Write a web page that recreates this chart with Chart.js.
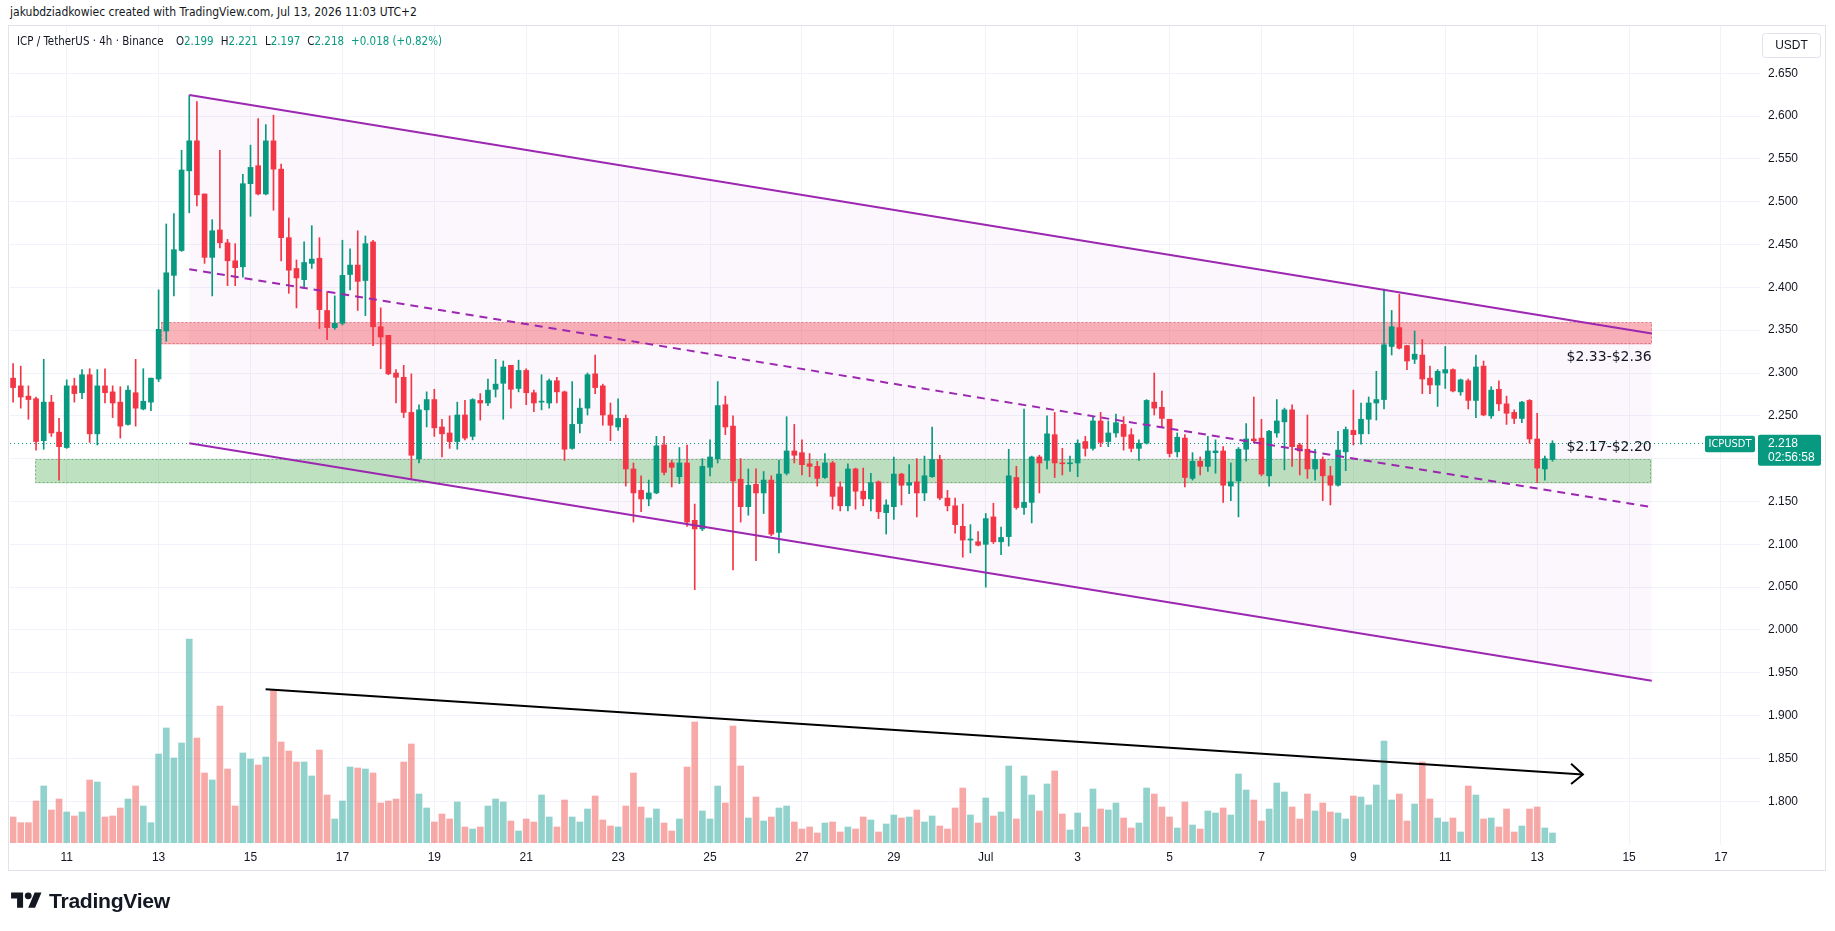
<!DOCTYPE html>
<html>
<head>
<meta charset="utf-8">
<script src="https://cdn.jsdelivr.net/npm/chart.js@4.4.0/dist/chart.umd.min.js"></script>
<style>
html,body{margin:0;padding:0;background:#fff;width:1835px;height:931px;overflow:hidden;}
#header{position:absolute;left:10px;top:4px;font:13px "Liberation Sans Narrow","DejaVu Sans Condensed","Liberation Sans",sans-serif;color:#131722;white-space:nowrap;transform-origin:0 0;}
#pane{position:absolute;left:8px;top:25px;width:1818px;height:846px;border:1px solid #e0e3eb;box-sizing:border-box;}
#c{position:absolute;left:0;top:0;}
#legend{position:absolute;left:17px;top:33px;font:13px "Liberation Sans Narrow","DejaVu Sans Condensed","Liberation Sans",sans-serif;color:#131722;white-space:nowrap;transform-origin:0 0;}
#legend .g{color:#089981;}
#legend .s{margin-left:8px;}
#logo{position:absolute;left:11px;top:889px;height:26px;}
#logo svg{position:absolute;left:0;top:0;}
#logotext{position:absolute;left:38px;top:0px;font:bold 21px "Liberation Sans",Arial,sans-serif;color:#131722;white-space:nowrap;transform-origin:0 0;letter-spacing:-0.3px;}
</style>
</head>
<body>
<div id="header">jakubdziadkowiec created with TradingView.com, Jul 13, 2026 11:03 UTC+2</div>
<div id="pane"></div>
<canvas id="c" width="1835" height="931"></canvas>
<div id="legend"><span>ICP / TetherUS · 4h · Binance</span><span class="s" style="margin-left:14px">O<span class="g">2.199</span></span><span class="s">H<span class="g">2.221</span></span><span class="s">L<span class="g">2.197</span></span><span class="s">C<span class="g">2.218</span></span><span class="s g">+0.018 (+0.82%)</span></div>
<div id="logo"><svg width="31" height="24" viewBox="0 0 36 28"><path d="M14 22H7V11H0V4h14v18zM28 22h-8l7.5-18h8L28 22z" fill="#131722"/><circle cx="20" cy="8" r="4" fill="#131722"/></svg><span id="logotext">TradingView</span></div>
<script>
// ---------- DATA ----------
const firstCandle = Date.UTC(2026, 5, 9, 20, 0); // Jun 9, 20:00
const candleHours = 4;
const axisOrigin = Date.UTC(2026, 5, 11, 0, 0);  // "11" (Jun 11)

const O = [2.294,2.285,2.273,2.270,2.221,2.266,2.231,2.213,2.285,2.277,
2.298,2.229,2.285,2.278,2.266,2.240,2.277,2.258,2.266,2.293,
2.349,2.414,2.443,2.536,2.571,2.509,2.435,2.467,2.452,2.431,
2.424,2.521,2.542,2.509,2.571,2.538,2.458,2.422,2.409,2.428,
2.434,2.373,2.353,2.358,2.415,2.426,2.408,2.453,2.354,2.344,
2.300,2.295,2.254,2.200,2.257,2.269,2.237,2.230,2.220,2.251,
2.226,2.268,2.265,2.281,2.288,2.309,2.282,2.303,2.277,2.266,
2.265,2.291,2.278,2.212,2.241,2.259,2.299,2.285,2.251,2.237,
2.247,2.188,2.163,2.153,2.160,2.216,2.195,2.179,2.195,2.128,
2.118,2.190,2.200,2.263,2.238,2.176,2.144,2.170,2.160,2.175,
2.114,2.183,2.209,2.207,2.194,2.191,2.178,2.195,2.167,2.145,
2.188,2.162,2.153,2.173,2.137,2.144,2.182,2.169,2.173,2.160,
2.179,2.199,2.154,2.145,2.121,2.105,2.103,2.100,2.132,2.103,
2.109,2.178,2.143,2.149,2.202,2.198,2.228,2.195,2.194,2.195,
2.220,2.212,2.244,2.220,2.230,2.240,2.228,2.212,2.218,2.266,
2.260,2.246,2.208,2.224,2.177,2.197,2.191,2.207,2.209,2.168,
2.174,2.211,2.223,2.224,2.180,2.230,2.243,2.257,2.216,2.211,
2.188,2.199,2.180,2.169,2.208,2.233,2.229,2.246,2.265,2.269,
2.331,2.353,2.332,2.316,2.321,2.294,2.286,2.300,2.304,2.278,
2.291,2.268,2.308,2.250,2.281,2.264,2.254,2.247,2.268,2.223,
2.188,2.199];
const H = [2.311,2.308,2.285,2.272,2.316,2.274,2.247,2.292,2.294,2.304,
2.305,2.304,2.305,2.285,2.284,2.285,2.316,2.305,2.294,2.397,
2.474,2.486,2.560,2.624,2.617,2.509,2.479,2.560,2.456,2.451,
2.532,2.566,2.597,2.590,2.601,2.544,2.481,2.432,2.453,2.472,
2.458,2.395,2.390,2.455,2.445,2.466,2.460,2.455,2.376,2.344,
2.304,2.309,2.299,2.263,2.278,2.281,2.246,2.250,2.266,2.268,
2.270,2.276,2.293,2.316,2.314,2.309,2.315,2.305,2.280,2.298,
2.293,2.295,2.279,2.290,2.270,2.300,2.321,2.287,2.265,2.270,
2.251,2.195,2.180,2.175,2.226,2.226,2.198,2.213,2.216,2.147,
2.200,2.222,2.290,2.273,2.250,2.200,2.188,2.188,2.185,2.180,
2.198,2.249,2.240,2.222,2.206,2.197,2.206,2.197,2.173,2.194,
2.189,2.189,2.183,2.174,2.152,2.202,2.183,2.193,2.200,2.203,
2.237,2.204,2.163,2.154,2.147,2.123,2.115,2.136,2.148,2.120,
2.211,2.191,2.258,2.203,2.204,2.250,2.254,2.212,2.203,2.222,
2.226,2.249,2.254,2.244,2.252,2.249,2.235,2.222,2.269,2.300,
2.279,2.246,2.230,2.228,2.207,2.202,2.226,2.222,2.214,2.195,
2.213,2.241,2.272,2.246,2.233,2.269,2.259,2.263,2.218,2.251,
2.211,2.202,2.191,2.232,2.237,2.280,2.265,2.272,2.302,2.398,
2.373,2.392,2.332,2.349,2.339,2.308,2.304,2.331,2.305,2.293,
2.293,2.321,2.314,2.284,2.291,2.273,2.257,2.267,2.269,2.253,
2.203,2.221];
const L = [2.266,2.259,2.246,2.210,2.211,2.226,2.175,2.212,2.266,2.270,
2.219,2.216,2.265,2.248,2.224,2.239,2.238,2.257,2.256,2.290,
2.337,2.390,2.442,2.487,2.495,2.428,2.390,2.446,2.402,2.402,
2.412,2.483,2.508,2.508,2.490,2.431,2.393,2.376,2.399,2.422,
2.352,2.339,2.351,2.356,2.397,2.373,2.367,2.332,2.305,2.298,
2.265,2.248,2.177,2.195,2.237,2.226,2.202,2.212,2.211,2.222,
2.222,2.245,2.262,2.272,2.246,2.259,2.278,2.263,2.255,2.257,
2.259,2.265,2.198,2.211,2.230,2.251,2.276,2.239,2.221,2.233,
2.168,2.126,2.138,2.145,2.159,2.181,2.167,2.171,2.121,2.047,
2.116,2.180,2.195,2.228,2.070,2.126,2.134,2.081,2.136,2.110,
2.090,2.181,2.195,2.181,2.179,2.168,2.177,2.141,2.139,2.139,
2.141,2.145,2.139,2.130,2.112,2.129,2.146,2.159,2.132,2.151,
2.178,2.152,2.139,2.113,2.085,2.090,2.098,2.050,2.101,2.088,
2.098,2.141,2.135,2.125,2.160,2.188,2.178,2.181,2.185,2.179,
2.203,2.210,2.214,2.214,2.225,2.210,2.208,2.198,2.217,2.251,
2.237,2.202,2.202,2.167,2.175,2.181,2.185,2.183,2.149,2.151,
2.132,2.197,2.219,2.180,2.168,2.225,2.187,2.191,2.181,2.177,
2.175,2.151,2.146,2.168,2.186,2.216,2.217,2.229,2.245,2.258,
2.321,2.328,2.304,2.311,2.276,2.276,2.261,2.282,2.278,2.274,
2.258,2.248,2.250,2.247,2.256,2.240,2.241,2.242,2.218,2.172,
2.175,2.197];
const C = [2.283,2.272,2.269,2.220,2.266,2.230,2.214,2.285,2.276,2.298,
2.229,2.285,2.277,2.265,2.238,2.280,2.259,2.267,2.294,2.351,
2.417,2.444,2.537,2.571,2.508,2.435,2.466,2.452,2.431,2.423,
2.521,2.540,2.509,2.571,2.538,2.458,2.420,2.411,2.429,2.433,
2.374,2.353,2.358,2.414,2.426,2.407,2.451,2.354,2.342,2.299,
2.295,2.254,2.204,2.257,2.269,2.236,2.229,2.220,2.251,2.224,
2.269,2.265,2.280,2.287,2.307,2.281,2.303,2.277,2.265,2.267,
2.291,2.278,2.211,2.240,2.259,2.298,2.283,2.251,2.239,2.247,
2.188,2.160,2.153,2.160,2.215,2.184,2.190,2.195,2.126,2.118,
2.191,2.202,2.262,2.237,2.174,2.144,2.169,2.160,2.175,2.112,
2.182,2.209,2.204,2.193,2.191,2.177,2.195,2.156,2.145,2.188,
2.162,2.153,2.172,2.138,2.146,2.182,2.169,2.172,2.160,2.180,
2.199,2.154,2.145,2.123,2.105,2.106,2.099,2.130,2.103,2.108,
2.180,2.143,2.149,2.202,2.195,2.229,2.195,2.194,2.195,2.218,
2.212,2.244,2.219,2.230,2.242,2.226,2.212,2.218,2.268,2.259,
2.247,2.206,2.225,2.178,2.197,2.191,2.209,2.209,2.169,2.173,
2.211,2.223,2.221,2.182,2.232,2.244,2.257,2.214,2.209,2.188,
2.199,2.180,2.169,2.210,2.234,2.228,2.246,2.265,2.269,2.333,
2.354,2.329,2.314,2.322,2.293,2.286,2.302,2.304,2.279,2.292,
2.268,2.307,2.251,2.280,2.264,2.253,2.247,2.266,2.223,2.189,
2.200,2.218];
// volume, thousands of ICP
const V = [385,300,300,625,850,490,655,460,400,460,
940,910,385,400,520,655,850,550,300,1330,
1720,1270,1495,3055,1570,1045,940,2050,1105,550,
1345,1255,1165,1285,2290,1510,1375,1210,1210,1000,
1390,715,355,625,1135,1120,1105,1045,595,625,
655,1210,1480,730,520,310,430,355,610,235,
205,235,550,655,610,325,175,355,310,715,
385,235,640,385,310,505,700,340,250,235,
550,1045,535,370,505,295,175,355,1135,1810,
475,355,850,595,1750,1150,370,685,325,385,
520,550,310,205,235,145,295,310,160,235,
205,385,340,160,280,415,370,385,490,310,
400,250,205,520,820,415,295,670,400,460,
1150,355,1000,715,475,880,1075,430,190,445,
235,805,505,490,595,370,220,295,820,730,
535,385,220,610,265,205,475,445,520,415,
1030,790,640,325,505,895,760,535,355,730,
475,595,460,445,355,700,685,565,865,1525,
640,730,325,580,1210,655,370,310,370,160,
850,715,355,370,235,505,160,250,505,535,
220,145];

// axis ticks
const xTickDays = [0,2,4,6,8,10,12,14,16,18,20,22,24,26,28,30,32,34,36];
const xTickLabels = ['11','13','15','17','19','21','23','25','27','29','Jul','3','5','7','9','11','13','15','17'];
const priceTicks = [1.80,1.85,1.90,1.95,2.00,2.05,2.10,2.15,2.20,2.25,2.30,2.35,2.40,2.45,2.50,2.55,2.60,2.65];

// drawings (days since Jun 11, prices)
const channelDays = [2.667, 34.494];
const channelUpper = [2.6245, 2.346];
const channelLower = [2.2179, 1.9408];
const channelMid = [2.4212, 2.1434];
const volTrendDays = [4.329, 32.995];
const volTrendPrices = [1.9308, 1.8313];
const arrowDays = [32.738, 32.995, 32.738];
const arrowPrices = [1.8438, 1.8313, 1.8201];
const zoneLows = [2.3334, 2.1712];
const zoneHighs = [2.3591, 2.1996];
const zoneStartDays = [2.052, -0.683];
const zoneEndDay = 34.494;
const zoneLabels = ['$2.33-$2.36', '$2.17-$2.20'];
const lastPrice = C[C.length - 1];
const countdown = '02:56:58';

// ---------- derived ----------
const candleDays = O.map((_, i) => (firstCandle + i * candleHours * 3600e3 - axisOrigin) / 86400e3);
const UP = '#089981', DOWN = '#f23645';
const VUP = 'rgba(38,166,154,0.5)', VDOWN = 'rgba(239,83,80,0.5)';
const isUp = O.map((o, i) => C[i] >= o);
const pts = (xs, ys) => xs.map((x, i) => ({x, y: ys[i]}));

const overlay = {
  id: 'overlay',
  beforeDatasetsDraw(chart) {
    const {ctx, scales: {x, y}, chartArea} = chart;
    ctx.save();
    const fills = ['rgba(242,54,69,0.38)', 'rgba(76,175,80,0.36)'];
    const strokes = ['rgba(200,90,100,0.7)', 'rgba(90,150,95,0.7)'];
    zoneLows.forEach((lo, k) => {
      const x0 = x.getPixelForValue(zoneStartDays[k]), x1 = x.getPixelForValue(zoneEndDay);
      const y0 = y.getPixelForValue(zoneHighs[k]), y1 = y.getPixelForValue(lo);
      ctx.fillStyle = fills[k];
      ctx.fillRect(x0, y0, x1 - x0, y1 - y0);
      ctx.setLineDash([2, 2]);
      ctx.strokeStyle = strokes[k];
      ctx.lineWidth = 1;
      ctx.strokeRect(Math.round(x0) + 0.5, Math.round(y0) + 0.5, Math.round(x1 - x0) - 1, Math.round(y1 - y0) - 1);
    });
    // last price dotted line
    const yl = Math.round(y.getPixelForValue(lastPrice)) + 0.5;
    ctx.setLineDash([1, 3]);
    ctx.strokeStyle = UP;
    ctx.beginPath();
    ctx.moveTo(chartArea.left, yl);
    ctx.lineTo(chartArea.right - 55, yl);
    ctx.stroke();
    ctx.restore();
  },
  afterDatasetsDraw(chart) {
    const {ctx, scales: {x, y}} = chart;
    ctx.save();
    ctx.font = '14px "DejaVu Sans", sans-serif';
    ctx.fillStyle = '#131722';
    ctx.textAlign = 'right';
    ctx.textBaseline = 'middle';
    const xr = x.getPixelForValue(zoneEndDay);
    ctx.fillText(zoneLabels[0], xr, y.getPixelForValue(zoneLows[0]) + 13);
    ctx.fillText(zoneLabels[1], xr, y.getPixelForValue(zoneHighs[1]) - 12);
    ctx.restore();
  },
  afterDraw(chart) {
    const {ctx, scales: {y}, chartArea} = chart;
    ctx.save();
    const yl = y.getPixelForValue(lastPrice);
    // symbol tag
    ctx.fillStyle = UP;
    ctx.beginPath(); ctx.roundRect(chartArea.right - 55, yl - 7.5, 50, 16.5, 2); ctx.fill();
    ctx.beginPath(); ctx.roundRect(chartArea.right - 2, yl - 8.5, 63, 31, 2); ctx.fill();
    ctx.fillStyle = '#ffffff';
    ctx.textBaseline = 'middle';
    ctx.textAlign = 'center';
    ctx.font = '11px "Liberation Sans Narrow","DejaVu Sans Condensed","Liberation Sans",sans-serif';
    ctx.fillText('ICPUSDT', chartArea.right - 30, yl + 1);
    ctx.textAlign = 'left';
    ctx.font = '12px "Liberation Sans", Arial, sans-serif';
    ctx.fillText(lastPrice.toFixed(3), chartArea.right + 8, yl + 0.5);
    ctx.fillText(countdown, chartArea.right + 8, yl + 14.5);
    // currency box
    ctx.fillStyle = '#ffffff';
    ctx.strokeStyle = '#e0e3eb';
    ctx.lineWidth = 1;
    ctx.beginPath(); ctx.roundRect(chartArea.right + 2.5, 33.5, 58, 24, 3); ctx.fill(); ctx.stroke();
    ctx.fillStyle = '#131722';
    ctx.textAlign = 'center';
    ctx.fillText('USDT', chartArea.right + 31.5, 46);
    ctx.restore();
  }
};

new Chart(document.getElementById('c'), {
  type: 'bar',
  data: {
    datasets: [
      {type: 'line', data: pts(channelDays, channelUpper), borderColor: '#9c27b0', borderWidth: 2, pointRadius: 0,
       fill: '+1', backgroundColor: 'rgba(156,39,176,0.035)', order: 0},
      {type: 'line', data: pts(channelDays, channelLower), borderColor: '#9c27b0', borderWidth: 2, pointRadius: 0, fill: false, order: 0},
      {type: 'line', data: pts(channelDays, channelMid), borderColor: '#9c27b0', borderWidth: 2, borderDash: [8, 6], pointRadius: 0, fill: false, order: 0},
      {type: 'line', data: pts(volTrendDays, volTrendPrices), borderColor: '#000000', borderWidth: 2, pointRadius: 0, fill: false, order: 0},
      {type: 'line', data: pts(arrowDays, arrowPrices), borderColor: '#000000', borderWidth: 2, pointRadius: 0, fill: false, order: 0},
      {data: candleDays.map((d, i) => ({x: d, y: [O[i], C[i]]})), backgroundColor: isUp.map(u => u ? UP : DOWN),
       barThickness: 5, grouped: false, minBarLength: 1, borderWidth: 0, yAxisID: 'y', order: 1},
      {data: candleDays.map((d, i) => ({x: d, y: [L[i], H[i]]})), backgroundColor: isUp.map(u => u ? UP : DOWN),
       barThickness: 1, grouped: false, borderWidth: 0, yAxisID: 'y', order: 2},
      {data: candleDays.map((d, i) => ({x: d, y: V[i]})), backgroundColor: isUp.map(u => u ? VUP : VDOWN),
       barThickness: 6, grouped: false, borderWidth: 0, yAxisID: 'yv', order: 3}
    ]
  },
  options: {
    responsive: false,
    devicePixelRatio: 1,
    animation: false,
    layout: {padding: {left: 10, top: 26, right: 10, bottom: 61}},
    plugins: {legend: {display: false}, tooltip: {enabled: false}, filler: {drawTime: 'beforeDatasetsDraw'}},
    scales: {
      x: {
        type: 'linear', min: -1.2339, max: 36.849, offset: false,
        grid: {color: '#f0f3fa', drawTicks: false, offset: false},
        border: {display: false},
        afterBuildTicks: s => { s.ticks = xTickDays.map(v => ({value: v})); },
        afterFit: s => { s.height = 25; },
        ticks: {autoSkip: false, maxRotation: 0, padding: 5, color: '#131722',
                font: {family: '"Liberation Sans", Arial, sans-serif', size: 12},
                callback: (v, i) => xTickLabels[i]}
      },
      y: {
        type: 'linear', position: 'right', min: 1.749, max: 2.7051, beginAtZero: false,
        grid: {color: '#f0f3fa', drawTicks: false},
        border: {display: false},
        afterBuildTicks: s => { s.ticks = priceTicks.map(v => ({value: v})); },
        afterFit: s => { s.width = 65; },
        ticks: {padding: 8, color: '#131722', font: {family: '"Liberation Sans", Arial, sans-serif', size: 12},
                callback: v => Number(v).toFixed(3)}
      },
      yv: {type: 'linear', display: false, min: -35, max: 12250}
    }
  },
  plugins: [overlay]
});

// fit text blocks to the reference widths
function fitWidth(id, w) {
  const el = document.getElementById(id);
  const r = el.getBoundingClientRect().width;
  if (r > 0) el.style.transform = 'scaleX(' + (w / r) + ')';
}
fitWidth('header', 407);
fitWidth('legend', 425);
fitWidth('logotext', 121);
</script>
</body>
</html>
